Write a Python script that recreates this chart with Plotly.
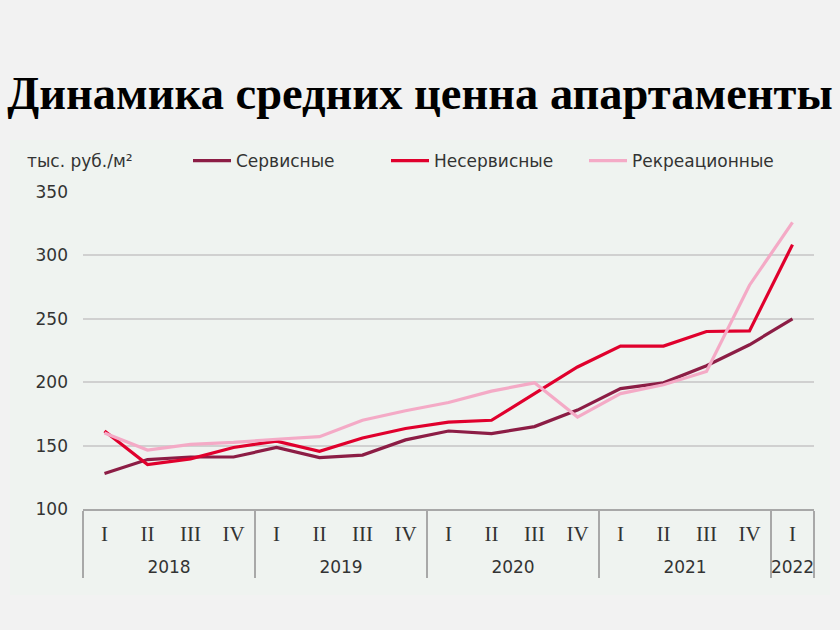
import plotly.graph_objects as go

# ---- data ----
years = ["2018"] * 4 + ["2019"] * 4 + ["2020"] * 4 + ["2021"] * 4 + ["2022"]
quarters = ["I", "II", "III", "IV"] * 4 + ["I"]

servisnye = [128, 139, 141, 141, 148.5, 140.5, 142.5, 154.5, 161.5, 159.5, 165, 178, 195, 199.5, 213, 229.5, 250]
neservisnye = [161.5, 135, 139.5, 148.5, 153.5, 145.5, 156, 163.5, 168.5, 170, 191, 212, 228.5, 228.5, 240, 240.5, 308.5]
rekreatsionnye = [160, 146.5, 151, 152.5, 155, 157, 170, 177.5, 184, 193, 199.5, 172.5, 191, 198, 208.5, 276.5, 326]

series_names = ["Сервисные", "Несервисные", "Рекреационные"]
series_colors = ["#8C1D45", "#E0002D", "#F4AAC6"]

title_text = "Динамика средних ценна апартаменты"
unit_text = "тыс. руб./м²"
y_ticks = [100, 150, 200, 250, 300, 350]

# ---- layout geometry (pixels) ----
W, H = 840, 630
L, R, T, B = 83, 26, 192, 121
pw, ph = W - L - R, H - T - B


def px_x(p):
    return (p - L) / pw


def px_y(p):
    return (H - B - p) / ph


# quarter labels in a serif face; a narrow invisible tall glyph enlarges the
# label row so that the year row sits lower (as in the reference)
pad = "<span style='font-size:34px;color:rgba(0,0,0,0)'>.</span>"
q_styled = [pad + "<span style='font-family:Liberation Serif;font-size:21px'>%s</span>" % q + pad
            for q in quarters]

fig = go.Figure()
for name, vals, col in zip(series_names, [servisnye, neservisnye, rekreatsionnye], series_colors):
    fig.add_trace(go.Scatter(
        x=[years, q_styled], y=vals, name=name, mode="lines",
        line=dict(color=col, width=3.2),
    ))

fig.update_layout(
    width=W, height=H,
    margin=dict(l=L, r=R, t=T, b=B, autoexpand=False),
    paper_bgcolor="#F2F2F2",
    plot_bgcolor="rgba(0,0,0,0)",
    font=dict(family="DejaVu Sans", size=17, color="#333333"),
    title=dict(text=title_text, x=0.5, xanchor="center", xref="container",
               y=1 - 93 / H, yref="container", yanchor="middle",
               font=dict(family="Liberation Serif", size=46.5, color="#000000", weight="bold")),
    showlegend=True,
    legend=dict(orientation="h", x=px_x(188), y=px_y(161), xanchor="left", yanchor="middle",
                bgcolor="rgba(0,0,0,0)", font=dict(size=17, color="#333333"),
                itemwidth=38, traceorder="normal", entrywidth=145, entrywidthmode="pixels"),
    shapes=[dict(type="rect", xref="paper", yref="paper", layer="below",
                 x0=px_x(10), x1=px_x(830), y0=px_y(595), y1=px_y(140),
                 fillcolor="#EFF3F0", line=dict(width=0))],
    annotations=[dict(text=unit_text, xref="paper", yref="paper", x=px_x(25), y=px_y(161),
                      xanchor="left", yanchor="middle", showarrow=False,
                      font=dict(size=17, color="#333333"))],
)
fig.update_yaxes(range=[100, 350], tickvals=y_ticks, showgrid=True, gridcolor="#D0D0D0",
                 gridwidth=1.5, zeroline=False, showline=False, ticks="",
                 ticklabelstandoff=14, tickfont=dict(size=17, color="#333333"))
fig.update_xaxes(type="multicategory", range=[-0.5, 16.5], showgrid=False, showline=True,
                 linecolor="#A8A8A8", linewidth=1.5, ticks="", showdividers=True,
                 dividercolor="#A8A8A8", dividerwidth=1.5, ticklabelstandoff=10,
                 tickangle=0, tickfont=dict(size=17, color="#333333"))

fig.write_html("out.html")
